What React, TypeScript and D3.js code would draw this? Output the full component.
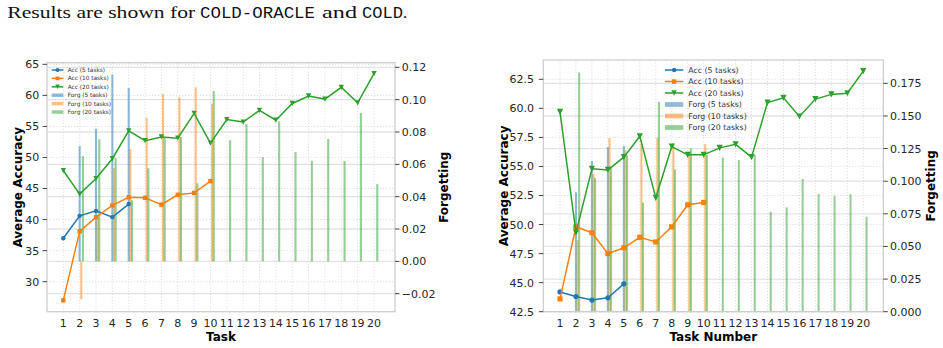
import { useEffect, useRef } from "react";
import * as d3 from "d3";

// task numbers on the x axis
const tasks = [1, 2, 3, 4, 5, 6, 7, 8, 9, 10, 11, 12, 13, 14, 15, 16, 17, 18, 19, 20];
// forgetting is reported from task 2 onwards
const forgTasks = [2, 3, 4, 5, 6, 7, 8, 9, 10, 11, 12, 13, 14, 15, 16, 17, 18, 19, 20];

const seriesNames = ["5 tasks", "10 tasks", "20 tasks"];
const seriesColors = ["#1f77b4", "#ff7f0e", "#2ca02c"];

// COLD-ORACLE (left)
const accOracle5 = [37.0, 40.6, 41.4, 40.4, 42.5];
const accOracle10 = [27.0, 38.1, 40.4, 42.3, 43.6, 43.5, 42.4, 44.0, 44.3, 46.2];
const accOracle20 = [47.9, 44.1, 46.6, 49.8, 54.3, 52.7, 53.3, 53.1, 57.1, 52.3, 56.1, 55.7, 57.6, 56.0, 58.7, 59.9, 59.4, 61.3, 58.8, 63.5];
const forgOracle5 = [0.0713, 0.0819, 0.1156, 0.1072];
const forgOracle10 = [-0.0235, 0.0276, 0.0576, 0.0695, 0.0887, 0.1035, 0.1015, 0.1076, 0.0975];
const forgOracle20 = [0.0652, 0.0755, 0.0639, 0.0378, 0.0576, 0.0769, 0.0769, 0.0483, 0.1054, 0.0749, 0.0849, 0.0644, 0.0866, 0.0676, 0.0621, 0.0757, 0.0621, 0.0918, 0.0478];

// COLD (right)
const accCold5 = [44.2, 43.8, 43.5, 43.7, 44.9];
const accCold10 = [43.6, 49.8, 49.3, 47.5, 48.0, 48.9, 48.5, 49.8, 51.7, 51.9];
const accCold20 = [59.7, 49.3, 54.8, 54.7, 55.8, 57.6, 52.3, 56.7, 56.0, 56.0, 56.6, 56.9, 55.8, 60.5, 60.9, 59.3, 60.8, 61.2, 61.3, 63.2];
const forgCold5 = [0.0915, 0.1155, 0.1262, 0.127];
const forgCold10 = [0.0549, 0.1055, 0.1331, 0.1239, 0.1287, 0.1333, 0.129, 0.1226, 0.1285];
const forgCold20 = [0.1834, 0.1025, 0.1101, 0.1197, 0.0835, 0.1607, 0.1091, 0.1252, 0.1201, 0.118, 0.1162, 0.1201, 0.0766, 0.08, 0.1017, 0.0902, 0.0889, 0.09, 0.0728];

// tick labels
const accTicksOracle = [30, 35, 40, 45, 50, 55, 60, 65];
const forgTicksOracle = [-0.02, 0, 0.02, 0.04, 0.06, 0.08, 0.1, 0.12];
const accTicksCold = [42.5, 45, 47.5, 50, 52.5, 55, 57.5, 60, 62.5];
const forgTicksCold = [0, 0.025, 0.05, 0.075, 0.1, 0.125, 0.15, 0.175];

const barOffsets = [0, 0.1, 0.2];
const barWidth = 0.13;

const panels = [
  {
    box: { left: 47, right: 395, top: 62.7, bottom: 311.7 },
    xDomain: [0.003, 21.285],
    accDomain: [25.17, 65.26],
    forgDomain: [-0.03113, 0.12286],
    acc: [accOracle5, accOracle10, accOracle20],
    forg: [forgOracle5, forgOracle10, forgOracle20],
    accTicks: accTicksOracle,
    forgTicks: forgTicksOracle,
    accFmt: d3.format("d"),
    forgFmt: d3.format(".2f"),
    xLabel: "Task",
    leftPad: 7.7,
    accLabelX: 21.7,
    forgLabelX: 448.3,
    ms: 0.85,
    legend: { hx: 51.7, hl: 11.6, tx: 67.7, y0: 70, dy: 8.4, font: 5.8 },
  },
  {
    box: { left: 543.3, right: 883.3, top: 60, bottom: 311.7 },
    xDomain: [-0.046, 21.253],
    accDomain: [42.5, 64.16],
    forgDomain: [0, 0.1929],
    acc: [accCold5, accCold10, accCold20],
    forg: [forgCold5, forgCold10, forgCold20],
    accTicks: accTicksCold,
    forgTicks: forgTicksCold,
    accFmt: d3.format(".1f"),
    forgFmt: d3.format(".3f"),
    xLabel: "Task Number",
    leftPad: 9.3,
    accLabelX: 508.3,
    forgLabelX: 935,
    ms: 1,
    legend: { hx: 665, hl: 18.3, tx: 688.3, y0: 70, dy: 11.5, font: 7.8 },
  },
];

const FONT = "DejaVu Sans, sans-serif";
const minus = (s: string) => s.replace("-", "\u2212");

function marker(g: any, kind: number, cx: number, cy: number, color: string, s: number) {
  if (kind === 0) {
    g.append("circle").attr("cx", cx).attr("cy", cy).attr("r", 2.6 * s).attr("fill", color);
  } else if (kind === 1) {
    const h = 2.6 * s;
    g.append("rect").attr("x", cx - h).attr("y", cy - h).attr("width", 2 * h).attr("height", 2 * h).attr("fill", color);
  } else {
    const h = 3.1 * s;
    g.append("path")
      .attr("d", `M${cx - h},${cy - h}L${cx + h},${cy - h}L${cx},${cy + h}Z`)
      .attr("fill", color);
  }
}

function drawPanel(svg: any, p: any) {
  const { left, right, top, bottom } = p.box;
  const x = d3.scaleLinear().domain(p.xDomain).range([left, right]);
  const yA = d3.scaleLinear().domain(p.accDomain).range([bottom, top]);
  const yF = d3.scaleLinear().domain(p.forgDomain).range([bottom, top]);
  const g = svg.append("g");

  // solid grid on the forgetting axis
  g.selectAll(null).data(p.forgTicks).join("line")
    .attr("x1", left).attr("x2", right)
    .attr("y1", (d: number) => yF(d)).attr("y2", (d: number) => yF(d))
    .attr("stroke", "#e3e3e3").attr("stroke-width", 1.3);
  // dotted grid on the accuracy axis and tasks
  g.selectAll(null).data(p.accTicks).join("line")
    .attr("x1", left).attr("x2", right)
    .attr("y1", (d: number) => yA(d)).attr("y2", (d: number) => yA(d))
    .attr("stroke", "#d6d6d6").attr("stroke-width", 0.8).attr("stroke-dasharray", "1.2,1.8");
  g.selectAll(null).data(tasks).join("line")
    .attr("x1", (d: number) => x(d)).attr("x2", (d: number) => x(d))
    .attr("y1", top).attr("y2", bottom)
    .attr("stroke", "#d6d6d6").attr("stroke-width", 0.8).attr("stroke-dasharray", "1.2,1.8");

  // forgetting bars
  const bw = x(barWidth) - x(0);
  p.forg.forEach((vals: number[], i: number) => {
    g.selectAll(null).data(vals).join("rect")
      .attr("x", (d: number, j: number) => x(forgTasks[j] + barOffsets[i]) - bw / 2)
      .attr("width", bw)
      .attr("y", (d: number) => yF(Math.max(0, d)))
      .attr("height", (d: number) => Math.abs(yF(d) - yF(0)))
      .attr("fill", seriesColors[i])
      .attr("fill-opacity", 0.5);
  });

  // accuracy lines
  p.acc.forEach((vals: number[], i: number) => {
    const line = d3.line<number>().x((d, j) => x(tasks[j])).y((d) => yA(d));
    g.append("path").datum(vals).attr("d", line)
      .attr("fill", "none").attr("stroke", seriesColors[i]).attr("stroke-width", 1.5);
    vals.forEach((v, j) => marker(g, i, x(tasks[j]), yA(v), seriesColors[i], p.ms));
  });

  // frame
  g.append("rect").attr("x", left).attr("y", top)
    .attr("width", right - left).attr("height", bottom - top)
    .attr("fill", "none").attr("stroke", "#cccccc").attr("stroke-width", 1.25);

  // left axis
  p.accTicks.forEach((t: number) => {
    g.append("line").attr("x1", left - 4.5).attr("x2", left).attr("y1", yA(t)).attr("y2", yA(t))
      .attr("stroke", "#444").attr("stroke-width", 1);
    g.append("text").attr("x", left - p.leftPad).attr("y", yA(t)).attr("dy", "0.36em")
      .attr("text-anchor", "end").attr("font-family", FONT).attr("font-size", 11)
      .attr("fill", "#262626").text(p.accFmt(t));
  });
  // right axis
  p.forgTicks.forEach((t: number) => {
    g.append("line").attr("x1", right).attr("x2", right + 4.5).attr("y1", yF(t)).attr("y2", yF(t))
      .attr("stroke", "#444").attr("stroke-width", 1);
    g.append("text").attr("x", right + 6.7).attr("y", yF(t)).attr("dy", "0.36em")
      .attr("font-family", FONT).attr("font-size", 11)
      .attr("fill", "#262626").text(minus(p.forgFmt(t)));
  });
  // x axis
  tasks.forEach((t) => {
    g.append("text").attr("x", x(t)).attr("y", bottom + 15.6)
      .attr("text-anchor", "middle").attr("font-family", FONT).attr("font-size", 11)
      .attr("fill", "#262626").text(t);
  });

  // axis titles
  const midY = (top + bottom) / 2;
  g.append("text").attr("x", (left + right) / 2).attr("y", bottom + 29.3)
    .attr("text-anchor", "middle").attr("font-family", FONT).attr("font-size", 12)
    .attr("font-weight", "bold").text(p.xLabel);
  g.append("text").attr("transform", `translate(${p.accLabelX},${midY}) rotate(-90)`)
    .attr("text-anchor", "middle").attr("font-family", FONT).attr("font-size", 12)
    .attr("font-weight", "bold").text("Average Accuracy");
  g.append("text").attr("transform", `translate(${p.forgLabelX},${midY}) rotate(-90)`)
    .attr("text-anchor", "middle").attr("font-family", FONT).attr("font-size", 12)
    .attr("font-weight", "bold").text("Forgetting");

  // legend
  const L = p.legend;
  const entries = [
    ...seriesNames.map((n, i) => ({ label: `Acc (${n})`, i, kind: "line" })),
    ...seriesNames.map((n, i) => ({ label: `Forg (${n})`, i, kind: "bar" })),
  ];
  entries.forEach((e, k) => {
    const yy = L.y0 + k * L.dy;
    if (e.kind === "line") {
      g.append("line").attr("x1", L.hx).attr("x2", L.hx + L.hl).attr("y1", yy).attr("y2", yy)
        .attr("stroke", seriesColors[e.i]).attr("stroke-width", 1.5);
      marker(g, e.i, L.hx + L.hl / 2, yy, seriesColors[e.i], p.ms * 0.85);
    } else {
      const hh = L.font * 0.6;
      g.append("rect").attr("x", L.hx).attr("y", yy - hh / 2).attr("width", L.hl).attr("height", hh)
        .attr("fill", seriesColors[e.i]).attr("fill-opacity", 0.5);
    }
    g.append("text").attr("x", L.tx).attr("y", yy).attr("dy", "0.36em")
      .attr("font-family", FONT).attr("font-size", L.font).attr("fill", "#333").text(e.label);
  });
}

const App = () => {
  const svgRef = useRef<SVGSVGElement>(null);

  useEffect(() => {
    const svg = d3.select(svgRef.current);
    svg.selectAll("*").remove();
    svg.append("rect").attr("width", 943).attr("height", 348).attr("fill", "#fff");

    // caption above the figures
    const cap = svg.append("g").attr("fill", "#111");
    const serif = "Liberation Serif, serif";
    const mono = "Liberation Mono, monospace";
    cap.append("text").attr("x", 7.3).attr("y", 18.3).attr("font-family", serif).attr("font-size", 16.5)
      .attr("textLength", 188).attr("lengthAdjust", "spacingAndGlyphs").text("Results are shown for");
    cap.append("text").attr("x", 200).attr("y", 18.3).attr("font-family", mono).attr("font-size", 16)
      .attr("textLength", 115).attr("lengthAdjust", "spacingAndGlyphs").text("COLD-ORACLE");
    cap.append("text").attr("x", 322).attr("y", 18.3).attr("font-family", serif).attr("font-size", 16.5)
      .attr("textLength", 35).attr("lengthAdjust", "spacingAndGlyphs").text("and");
    cap.append("text").attr("x", 362).attr("y", 18.3).attr("font-family", mono).attr("font-size", 16)
      .attr("textLength", 41).attr("lengthAdjust", "spacingAndGlyphs").text("COLD");
    cap.append("text").attr("x", 403).attr("y", 18.3).attr("font-family", serif).attr("font-size", 16.5).text(".");

    panels.forEach((p) => drawPanel(svg, p));
  }, []);

  return (
    <svg ref={svgRef} width={943} height={348}
      style={{ position: "absolute", left: 0, top: 0, display: "block" }} />
  );
};

export default App;
